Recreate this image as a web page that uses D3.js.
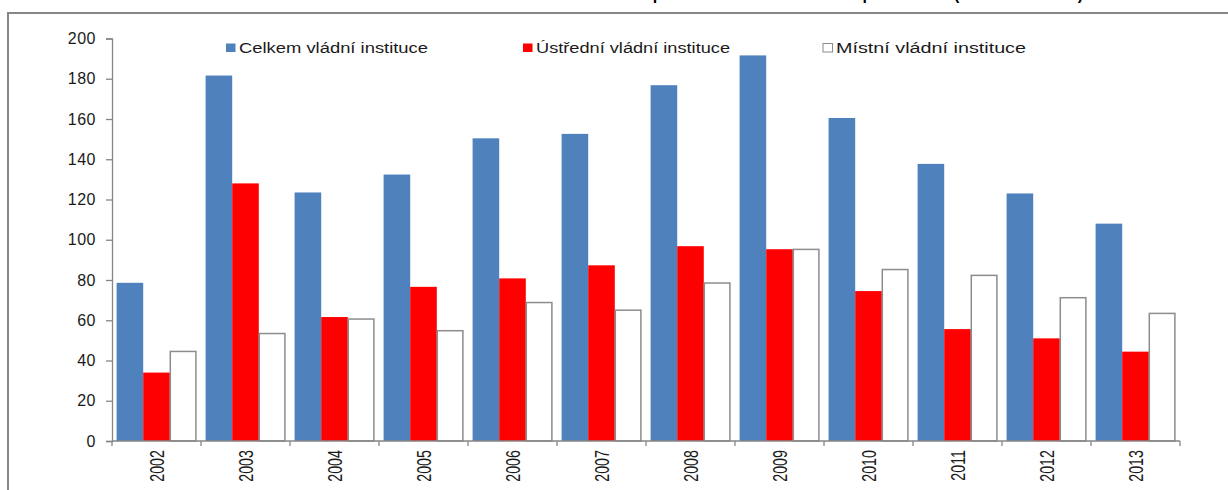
<!DOCTYPE html>
<html><head><meta charset="utf-8">
<script src="https://cdn.jsdelivr.net/npm/d3@7"></script>
<style>html,body{margin:0;padding:0;background:#fff;overflow:hidden}</style>
</head><body>
<svg id="c" width="1228" height="490"></svg>
<script>
const years = ["2002","2003","2004","2005","2006","2007","2008","2009","2010","2011","2012","2013"];
const seriesNames = ["Celkem vládní instituce","Ústřední vládní instituce","Místní vládní instituce"];
const celkem  = [78.6,181.6,123.5,132.4,150.4,152.6,176.8,191.6,160.5,137.7,123.0,108.0];
const ustredni= [34.0,128.0,61.6,76.6,80.8,87.3,96.8,95.3,74.5,55.6,51.0,44.4];
const mistni  = [44.5,53.4,60.6,54.8,68.8,65.0,78.5,95.2,85.2,82.3,71.2,63.4];
const yTicks = [0,20,40,60,80,100,120,140,160,180,200];
const titleText = "Tvorba fixního kapitálu vládních institucí dle podsektorů (v miliardách Kč)";

const colors = ["#4F81BD","#FF0000","#FFFFFF"];
const strokes = ["none","none","#8c8c8c"];
const values = [celkem, ustredni, mistni];

const svg = d3.select("#c");
const font = "'Liberation Sans', Arial, sans-serif";

// title (mostly cut off at top, as in the reference)
svg.append("text").attr("x",1083).attr("y",-0.5).attr("text-anchor","end")
  .attr("font-family",font).attr("font-weight","bold").attr("font-size",16)
  .attr("fill","#000").text(titleText);

// chart frame
svg.append("rect").attr("x",8).attr("y",13).attr("width",1240).attr("height",500)
  .attr("fill","none").attr("stroke","#878787").attr("stroke-width",2);

const x0 = d3.scaleBand().domain(years).range([112,1180]).padding(0);
const x1 = d3.scaleBand().domain(seriesNames).range([0,x0.bandwidth()]).paddingInner(0).paddingOuter(0.173);
const y = d3.scaleLinear().domain([0,200]).range([441,38.5]);

// bars
const g = svg.append("g");
seriesNames.forEach((s,si)=>{
  g.selectAll(".b"+si).data(years).enter().append("rect")
    .attr("x",d=>x0(d)+x1(s) + (si==2?0.5:0))
    .attr("y",(d,i)=>y(values[si][i]))
    .attr("width",x1.bandwidth() - (si==2?1:0))
    .attr("height",(d,i)=>y(0)-y(values[si][i]))
    .attr("fill",colors[si])
    .attr("stroke",strokes[si]).attr("stroke-width",1.5);
});

// y axis
const yAxis = d3.axisLeft(y).tickValues(yTicks).tickSize(6).tickPadding(10);
const ya = svg.append("g").attr("transform","translate(112,0)").call(yAxis);
ya.select(".domain").attr("stroke","#868686").attr("stroke-width",1.3);
ya.selectAll(".tick line").attr("stroke","#868686").attr("stroke-width",1.3);
ya.selectAll("text").attr("font-family",font).attr("font-size",16).attr("fill","#1a1a1a")
  .attr("letter-spacing","0.5px");

// x axis
const xa = svg.append("g").attr("transform","translate(0,441)");
xa.append("line").attr("x1",112).attr("x2",1180).attr("y1",0).attr("y2",0)
  .attr("stroke","#868686").attr("stroke-width",1.3);
const bounds = years.map(d=>x0(d)).concat([x0.range()[1]]);
xa.selectAll(".tk").data(bounds).enter().append("line")
  .attr("x1",d=>d).attr("x2",d=>d).attr("y1",0).attr("y2",5)
  .attr("stroke","#868686").attr("stroke-width",1.3);
xa.selectAll(".lbl").data(years).enter().append("text")
  .attr("transform",d=>`translate(${x0(d)+x0.bandwidth()/2+7.5},9) scale(1.35,1) rotate(-90)`)
  .attr("text-anchor","end").attr("font-family",font).attr("font-size",14.3)
  .attr("fill","#1a1a1a").text(d=>d);

// legend
const legX = [226,523,823];
const legW = [189,194,190];
const leg = svg.append("g");
seriesNames.forEach((s,i)=>{
  leg.append("rect").attr("x",legX[i]).attr("y",43.5).attr("width",9.5).attr("height",8.5)
    .attr("fill",colors[i]).attr("stroke",i==2?"#8c8c8c":"none").attr("stroke-width",1);
  leg.append("text").attr("x",legX[i]+13).attr("y",53)
    .attr("font-family",font).attr("font-size",15.5).attr("fill","#1a1a1a")
    .attr("textLength",legW[i]).attr("lengthAdjust","spacingAndGlyphs").text(s);
});
</script>
</body></html>
